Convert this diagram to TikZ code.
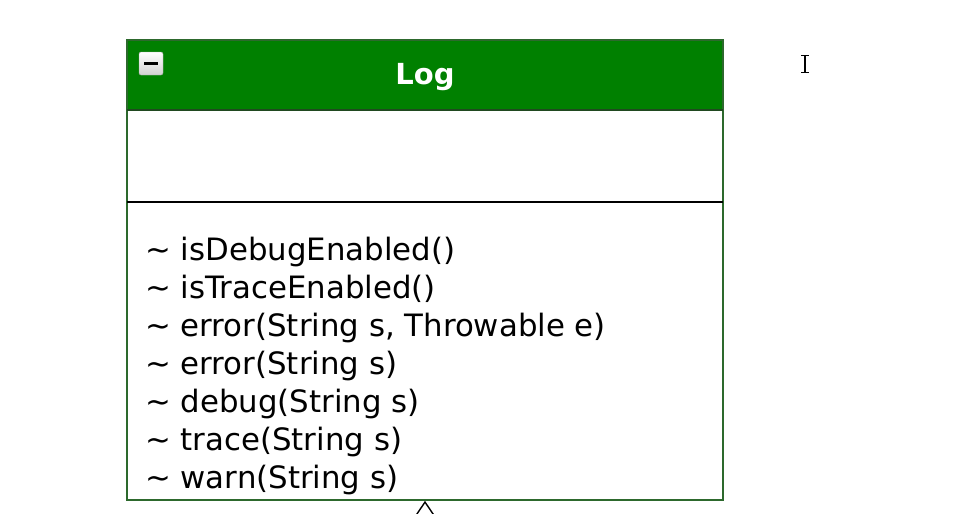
\documentclass[tikz,border=0pt]{standalone}
\usepackage{fontspec}
\setmainfont{DejaVu Sans}
\usetikzlibrary{arrows.meta}
\definecolor{umlgreen}{RGB}{0,128,0}
\definecolor{umlframe}{RGB}{45,105,45}
\tikzset{
  classbox/.style={draw=umlframe, line width=1.6pt, minimum width=596pt, minimum height=460pt, inner sep=0pt},
  optext/.style={anchor=base west, inner sep=0pt, font=\fontsize{30.8}{30.8}\selectfont},
}
\begin{document}
\begin{tikzpicture}[x=1pt,y=-1pt]
  \useasboundingbox (0,0) rectangle (956,514);
  % class header
  \fill[umlgreen] (127,40) rectangle (723,110);
  \node[classbox] (log) at (425,270) {};
  \draw[umlframe!70!black, line width=1.4pt] (127,110)--(723,110);
  \draw[line width=1.4pt] (127,202)--(723,202); % attributes / operations
  \node[text=white, font=\bfseries\fontsize{29}{29}\selectfont] (title) at (425,77) {Log};
  % collapse button
  \draw[gray!70, rounded corners=2pt, top color=white, bottom color=gray!35] (139,52) rectangle (163,75);
  \draw[line width=2.8pt] (144,63.5)--(158,63.5);
  % operations
  \foreach \op [count=\i] in {isDebugEnabled(), isTraceEnabled(), {error(String s, Throwable e)}, error(String s), debug(String s), trace(String s), warn(String s)}
    \node[optext] (op\i) at (145,222+38*\i) {\textasciitilde\ \op};
  % inheritance arrow from below
  \coordinate (sub) at (425,530);
  \draw[-{Triangle[open, width=24pt, length=18pt]}, line width=1.4pt] (sub) -- (log.south);
  % text cursor
  \draw[line width=1.2pt] (805,55)--(805,72);
  \draw[line width=1pt] (801,55)--(809,55) (801,72)--(809,72);
\end{tikzpicture}
\end{document}
